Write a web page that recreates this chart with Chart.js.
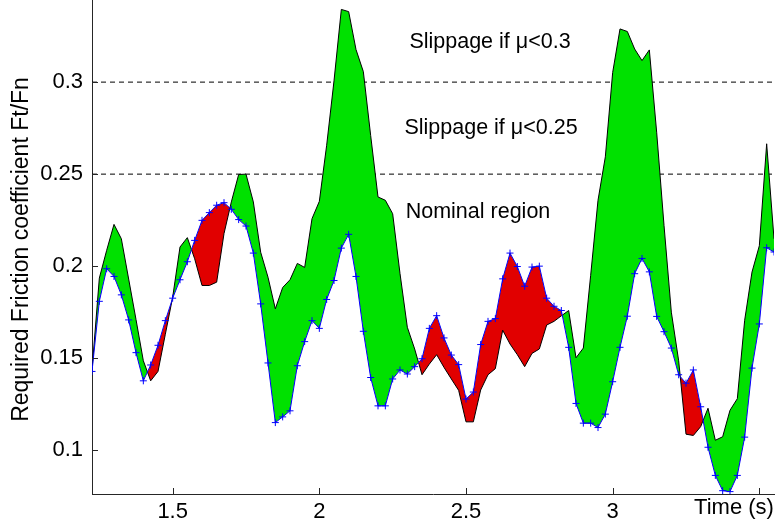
<!DOCTYPE html>
<html><head><meta charset="utf-8">
<script src="https://cdn.jsdelivr.net/npm/chart.js@4/dist/chart.umd.min.js"></script>
<style>html,body{margin:0;padding:0;background:#fff}#wrap{width:779px;height:527px}</style>
</head><body><div id="wrap"><canvas id="c" width="779" height="527"></canvas></div>
<script>
// Time samples (s)
const times = [1.225,1.25,1.275,1.3,1.325,1.35,1.375,1.4,1.425,1.45,1.475,1.5,1.525,1.55,1.575,1.6,1.625,1.65,1.675,1.7,
1.725,1.75,1.775,1.8,1.825,1.85,1.875,1.9,1.925,1.95,1.975,2,2.025,2.05,2.075,2.1,2.125,2.15,2.175,2.2,
2.225,2.25,2.275,2.3,2.325,2.35,2.375,2.4,2.425,2.45,2.475,2.5,2.525,2.55,2.575,2.6,2.625,2.65,2.675,2.7,
2.725,2.75,2.775,2.8,2.825,2.85,2.875,2.9,2.925,2.95,2.975,3,3.025,3.05,3.075,3.1,3.125,3.15,3.175,3.2,
3.225,3.25,3.275,3.3,3.325,3.35,3.375,3.4,3.425,3.45,3.475,3.5,3.525,3.55];
// Blue series with + markers
const seriesBlue = [0.1428,0.1809,0.1986,0.1944,0.1844,0.1708,0.153,0.1377,0.1463,0.157,
0.1704,0.1826,0.1926,0.2024,0.214,0.2249,0.2291,0.2331,0.2345,0.2309,
0.2253,0.2218,0.2071,0.1795,0.1474,0.115,0.1181,0.1214,0.1459,0.159,
0.1704,0.1662,0.1819,0.1922,0.2098,0.2173,0.1944,0.1646,0.1395,0.1241,
0.1241,0.1387,0.1436,0.1414,0.1454,0.1497,0.1662,0.1731,0.161,0.1517,
0.1465,0.1278,0.1316,0.1574,0.17,0.1715,0.1931,0.2071,0.1998,0.1891,
0.1995,0.2,0.1826,0.1782,0.1759,0.1559,0.1254,0.1147,0.1147,0.1123,
0.1196,0.1372,0.1559,0.1728,0.1959,0.2042,0.1969,0.1727,0.1644,0.1555,
0.141,0.1364,0.1436,0.1236,0.1016,0.0863,0.078,0.0775,0.0863,0.1071,
0.1446,0.1686,0.21,0.2077];
// Black series
const seriesBlack = [0.1435,0.1935,0.2086,0.2227,0.2149,0.193,0.171,0.1486,0.1377,0.1428,
0.163,0.1831,0.2104,0.2155,0.204,0.1895,0.1895,0.1913,0.2177,0.2349,
0.2498,0.25,0.2349,0.2076,0.194,0.1768,0.1884,0.1926,0.2015,0.1993,
0.2258,0.2352,0.2657,0.3007,0.3395,0.3383,0.3177,0.3057,0.271,0.2376,
0.2358,0.2285,0.196,0.1668,0.155,0.141,0.1468,0.1519,0.145,0.1387,
0.1325,0.1154,0.1154,0.1327,0.141,0.1443,0.1652,0.1577,0.1519,0.1454,
0.1526,0.155,0.168,0.17,0.173,0.1759,0.1502,0.1555,0.195,0.2358,
0.2594,0.3052,0.3289,0.3275,0.318,0.3117,0.3175,0.2728,0.2222,0.175,
0.1486,0.1087,0.108,0.1128,0.1228,0.1054,0.1073,0.1217,0.128,0.1706,
0.1968,0.2111,0.2665,0.2149];
const thresholds = [0.25, 0.3];
const xTicks = [1.5, 2, 2.5, 3, 3.5];
const yTicks = [0.1, 0.15, 0.2, 0.25, 0.3];
const regionLabels = ['Slippage if \u03bc<0.3', 'Slippage if \u03bc<0.25', 'Nominal region'];
const xLabel = 'Time (s)';
const yLabel = 'Required Friction coefficient Ft/Fn';

const FONT = '"Liberation Sans", Arial, Helvetica, sans-serif';
const pts = (ys) => times.map((t, i) => ({x: t, y: ys[i]}));
const xMin = times[0], xMax = times[times.length - 1];

const overlay = {
  id: 'overlay',
  afterDraw(chart) {
    const ctx = chart.ctx, xs = chart.scales.x, ys = chart.scales.y;
    const a = chart.chartArea;
    ctx.save();
    ctx.strokeStyle = '#262626'; ctx.lineWidth = 1;
    ctx.beginPath();
    // continue the left axis line up to the top edge
    const ax = Math.round(a.left) + 0.5;
    ctx.moveTo(ax, 0); ctx.lineTo(ax, a.top + 1);
    yTicks.forEach(v => { const y = Math.round(ys.getPixelForValue(v)) + 0.5; ctx.moveTo(a.left, y); ctx.lineTo(a.left + 6, y); });
    xTicks.forEach(v => { const x = Math.round(xs.getPixelForValue(v)) + 0.5; ctx.moveTo(x, a.bottom); ctx.lineTo(x, a.bottom - 6); });
    ctx.stroke();
    ctx.fillStyle = '#000';
    ctx.font = '21.5px ' + FONT;
    ctx.textAlign = 'center'; ctx.textBaseline = 'middle';
    ctx.fillText(regionLabels[0], 490, 42);
    ctx.fillText(regionLabels[1], 491, 128);
    ctx.fillText(regionLabels[2], 478, 212);
    ctx.font = '22px ' + FONT;
    ctx.fillText(xLabel, 734, 508);
    ctx.restore();
  }
};

new Chart(document.getElementById('c'), {
  type: 'line',
  data: {
    datasets: [
      { data: pts(seriesBlue), borderColor: '#0000ff', borderWidth: 1, pointStyle: 'cross',
        pointRadius: 3.5, pointBorderColor: '#0000ff', pointBorderWidth: 1, fill: false, tension: 0 },
      { data: pts(seriesBlack), borderColor: '#000000', borderWidth: 1, pointRadius: 0, tension: 0,
        fill: { target: 0, above: 'rgb(0,225,0)', below: 'rgb(225,0,0)' } },
      { data: [{x: xMin, y: thresholds[0]}, {x: xMax, y: thresholds[0]}], borderColor: '#000',
        borderWidth: 1, borderDash: [5, 4], pointRadius: 0, fill: false },
      { data: [{x: xMin, y: thresholds[1]}, {x: xMax, y: thresholds[1]}], borderColor: '#000',
        borderWidth: 1, borderDash: [5, 4], pointRadius: 0, fill: false }
    ]
  },
  options: {
    responsive: false, animation: false, devicePixelRatio: 1,
    layout: { padding: { left: 0, right: 4, top: 0, bottom: 0 } },
    plugins: { legend: { display: false }, tooltip: { enabled: false } },
    scales: {
      x: {
        type: 'linear', min: xMin, max: xMax,
        grid: { display: false, drawTicks: false },
        border: { display: true, color: '#262626', width: 1 },
        afterBuildTicks: (s) => { s.ticks = xTicks.map(v => ({value: v})); },
        afterFit: (s) => { s.height = 33; s.paddingLeft = 0; s.paddingRight = 0; },
        ticks: { font: { family: FONT, size: 22 }, color: '#000', padding: 5, maxRotation: 0,
          callback: (v) => (v === 3.5 ? '' : String(v)) }
      },
      y: {
        type: 'linear', min: 0.0762, max: 0.3419,
        grid: { display: false, drawTicks: false },
        border: { display: true, color: '#262626', width: 1 },
        afterBuildTicks: (s) => { s.ticks = yTicks.map(v => ({value: v})); },
        afterFit: (s) => { s.width = 92; s.paddingTop = 0; s.paddingBottom = 0; },
        ticks: { font: { family: FONT, size: 22 }, color: '#000', padding: 9,
          callback: (v) => String(v) },
        title: { display: true, text: yLabel, font: { family: FONT, size: 23 }, color: '#000',
          padding: { top: 8, bottom: 0 } }
      }
    }
  },
  plugins: [overlay]
});
</script>
</body></html>
